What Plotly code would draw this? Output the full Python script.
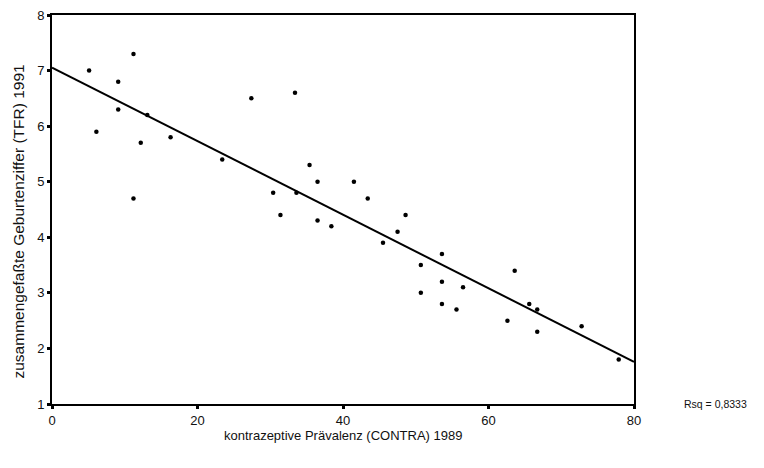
import numpy as np
import plotly.graph_objects as go

contra = [5.1, 11.2, 9.1, 9.1, 6.1, 13.1, 12.2, 16.3, 11.2, 23.4, 27.4, 33.4, 30.4, 31.4,
          33.6, 35.4, 36.5, 41.5, 43.4, 36.5, 38.4, 48.6, 47.5, 45.5, 53.6, 50.7, 53.6,
          56.5, 50.7, 53.6, 55.6, 63.6, 65.6, 66.7, 62.6, 66.7, 72.8, 77.9]
tfr = [7.0, 7.3, 6.8, 6.3, 5.9, 6.2, 5.7, 5.8, 4.7, 5.4, 6.5, 6.6, 4.8, 4.4,
       4.8, 5.3, 5.0, 5.0, 4.7, 4.3, 4.2, 4.4, 4.1, 3.9, 3.7, 3.5, 3.2,
       3.1, 3.0, 2.8, 2.7, 3.4, 2.8, 2.7, 2.5, 2.3, 2.4, 1.8]
x_ticks = [0, 20, 40, 60, 80]
y_ticks = [1, 2, 3, 4, 5, 6, 7, 8]
rsq_label = "Rsq = 0,8333"
x_title = "kontrazeptive Prävalenz (CONTRA) 1989"
y_title = "zusammengefaßte Geburtenziffer (TFR) 1991"

slope, intercept = np.polyfit(contra, tfr, 1)
fit_x = [0, 80]
fit_y = [intercept + slope * v for v in fit_x]

fam = "Arial, Liberation Sans, sans-serif"
font = dict(family=fam, size=13, color="#111")

fig = go.Figure()
fig.add_trace(go.Scatter(x=contra, y=tfr, mode="markers",
                         marker=dict(color="black", size=4.5, symbol="circle"),
                         showlegend=False, cliponaxis=False))
fig.add_trace(go.Scatter(x=fit_x, y=fit_y, mode="lines",
                         line=dict(color="black", width=2), showlegend=False))

axis_common = dict(showgrid=False, zeroline=False, automargin=False,
                   showline=True, linecolor="black", linewidth=2, mirror=True,
                   ticks="outside", ticklen=3, tickwidth=3, tickcolor="black",
                   tickfont=font, ticklabeloverflow="allow")

fig.update_layout(
    width=748, height=452,
    margin=dict(l=44, r=122, t=7, b=56, autoexpand=False),
    paper_bgcolor="white", plot_bgcolor="white",
    font=font,
    xaxis=dict(range=[0, 80], tickvals=x_ticks, **axis_common),
    yaxis=dict(range=[1, 8], tickvals=y_ticks, **axis_common),
    annotations=[
        dict(text=x_title, xref="paper", yref="paper", x=0.5, y=0, yshift=-22,
             xanchor="center", yanchor="top", showarrow=False,
             font=dict(family=fam, size=13, color="#111")),
        dict(text=y_title, xref="paper", yref="paper", x=0, y=0.5, xshift=-34,
             yshift=-12, xanchor="center", yanchor="middle", textangle=-90,
             showarrow=False, font=dict(family=fam, size=15.5, color="#111")),
        dict(text=rsq_label, xref="paper", yref="paper", x=1.0, y=0.0,
             xanchor="left", yanchor="middle", xshift=48, showarrow=False,
             font=dict(family=fam, size=10.5, color="#111")),
    ],
)

fig.write_html("out.html")
